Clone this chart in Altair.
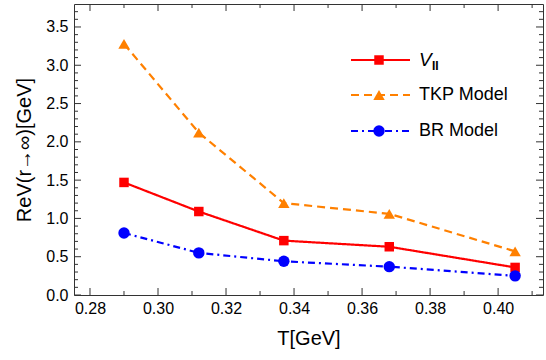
import altair as alt
import pandas as pd

# Temperatures (GeV) and asymptotic real part of the potential (GeV)
T = [0.290, 0.312, 0.337, 0.368, 0.405]
v_par = [1.47, 1.09, 0.71, 0.63, 0.36]
tkp = [3.28, 2.12, 1.20, 1.06, 0.57]
br = [0.81, 0.55, 0.44, 0.37, 0.25]

series_names = ["V_par", "TKP Model", "BR Model"]
series_colors = ["#ff0000", "#ff8000", "#0000ff"]
series_dash = [[1, 0], [8, 5], [7, 4, 2, 4]]
series_shape = ["square", "triangle-up", "circle"]
series_size = [90, 130, 130]

# Tick positions for the framed axes
x_major = [0.28, 0.30, 0.32, 0.34, 0.36, 0.38, 0.40]
x_minor = [0.29, 0.31, 0.33, 0.35, 0.37, 0.39, 0.41]
y_major = [0.0, 0.5, 1.0, 1.5, 2.0, 2.5, 3.0, 3.5]
y_minor = [round(0.1 * i, 1) for i in range(1, 38) if i % 5 != 0]

W, H = 469, 291
FRAME = "#333333"
FONT = "Liberation Sans"

xs = alt.Scale(domain=[0.2753, 0.4132], nice=False, zero=False)
ys = alt.Scale(domain=[0.0, 3.8], nice=False, zero=False)

df = pd.DataFrame({
    "T": T * 3,
    "V": v_par + tkp + br,
    "series": [s for s in series_names for _ in T],
})

x_enc = alt.X("T:Q", scale=xs, axis=alt.Axis(
    values=x_major, format=".2f", ticks=False, domain=False, grid=False,
    title="T[GeV]", titleFontSize=20, titleFontWeight="normal", titleFont=FONT,
    labelFont=FONT, labelFontSize=16, labelColor="black", labelPadding=5,
    titlePadding=12, titleColor="black"))
y_enc = alt.Y("V:Q", scale=ys, axis=alt.Axis(
    values=y_major, format=".1f", ticks=False, domain=False, grid=False,
    title="ReV(r→∞)[GeV]", titleFontSize=20, titleFontWeight="normal",
    titleFont=FONT, labelFont=FONT, labelFontSize=16, labelColor="black",
    labelPadding=6, titlePadding=11, titleColor="black"))

layers = []
for name, col, dash, shape, size in zip(series_names, series_colors,
                                         series_dash, series_shape, series_size):
    base = alt.Chart(df).transform_filter(alt.datum.series == name)
    layers.append(base.mark_line(color=col, strokeWidth=2.2, strokeDash=dash)
                  .encode(x=x_enc, y=y_enc))
    layers.append(base.mark_point(shape=shape, filled=True, opacity=1,
                                  color=col, size=size)
                  .encode(x=x_enc, y=y_enc))

# Inward-pointing frame ticks on all four sides
def xticks(values, length):
    d = pd.DataFrame({"T": values})
    bottom = alt.Chart(d).mark_rule(color=FRAME, strokeWidth=1).encode(
        x=x_enc, y=alt.value(H), y2=alt.value(H - length))
    top = alt.Chart(d).mark_rule(color=FRAME, strokeWidth=1).encode(
        x=x_enc, y=alt.value(0), y2=alt.value(length))
    return [bottom, top]

def yticks(values, length):
    d = pd.DataFrame({"V": values})
    left = alt.Chart(d).mark_rule(color=FRAME, strokeWidth=1).encode(
        y=y_enc, x=alt.value(0), x2=alt.value(length))
    right = alt.Chart(d).mark_rule(color=FRAME, strokeWidth=1).encode(
        y=y_enc, x=alt.value(W), x2=alt.value(W - length))
    return [left, right]

tick_layers = (xticks(x_major, 7) + xticks(x_minor, 4)
               + yticks(y_major, 7) + yticks(y_minor, 4))

# Legend drawn inside the plot, top right
leg_rows = [56, 91, 127]
leg_x0, leg_x1, leg_mark, leg_text = 277, 336, 305, 345
legend_layers = []
one = pd.DataFrame({"k": [0]})
for name, col, dash, shape, size, yy in zip(series_names, series_colors,
                                             series_dash, series_shape,
                                             series_size, leg_rows):
    legend_layers.append(alt.Chart(one).mark_rule(
        color=col, strokeWidth=2.2, strokeDash=dash).encode(
        x=alt.value(leg_x0), x2=alt.value(leg_x1), y=alt.value(yy)))
    legend_layers.append(alt.Chart(one).mark_point(
        shape=shape, filled=True, opacity=1, color=col, size=size).encode(
        x=alt.value(leg_mark), y=alt.value(yy)))
    if name == "V_par":
        legend_layers.append(alt.Chart(one).mark_text(
            text="V", font=FONT, fontSize=19, fontStyle="italic",
            align="left", baseline="middle", color="black").encode(
            x=alt.value(leg_text), y=alt.value(yy)))
        legend_layers.append(alt.Chart(one).mark_text(
            text="II", font=FONT, fontSize=12, fontWeight="bold",
            align="left", baseline="middle", color="black").encode(
            x=alt.value(leg_text + 13), y=alt.value(yy + 6)))
    else:
        legend_layers.append(alt.Chart(one).mark_text(
            text=name, font=FONT, fontSize=18, align="left",
            baseline="middle", color="black").encode(
            x=alt.value(leg_text), y=alt.value(yy)))

chart = alt.layer(*layers, *tick_layers, *legend_layers).properties(
    width=W, height=H,
    autosize=alt.AutoSizeParams(type="none"),
    padding={"left": 74, "top": 4, "right": 3, "bottom": 65},
    background="white",
).configure_view(stroke=FRAME, strokeWidth=1)

chart.save("out.html", embed_options={"renderer": "svg", "actions": False})
